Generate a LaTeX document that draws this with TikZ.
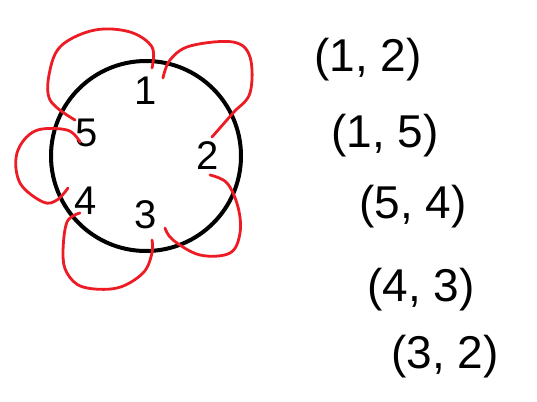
\documentclass[tikz,border=0pt]{standalone}
\usepackage{fontspec}
\setmainfont{Liberation Sans}
\definecolor{paintred}{RGB}{237,28,36}
\begin{document}
\begin{tikzpicture}[x=1pt,y=-1pt,
  lbl/.style={font=\fontsize{40}{44}\selectfont, inner sep=0pt},
  pair/.style={font=\fontsize{46}{52}\selectfont, inner sep=0pt},
  loop/.style={draw=paintred, line width=2.8pt, line cap=round, line join=round}]
\useasboundingbox (0,0) rectangle (537,401);
\node[draw, line width=4pt, circle, minimum size=190pt, inner sep=0pt] (c) at (146,156) {};
\node[lbl] (n1) at (146,91) {1};
\node[lbl] (n5) at (87,133) {5};
\node[lbl] (n2) at (208,156) {2};
\node[lbl] (n4) at (86,201) {4};
\node[lbl] (n3) at (146,215) {3};
% loops
\draw[loop] plot[smooth, tension=0.6] coordinates {(152,68) (152,47) (130,32) (95,30) (62,45) (50,70) (50,100) (75,120)};
\draw[loop] plot[smooth, tension=0.6] coordinates {(163,78) (170,60) (190,46) (233,42) (250,57) (250,93) (233,113) (212,137)};
\draw[loop] plot[smooth, tension=0.6] coordinates {(80,142) (67,130) (35,131) (17,153) (20,183) (43,202) (57,200) (68,188)};
\draw[loop] plot[smooth, tension=0.6] coordinates {(80,213) (67,222) (63,253) (67,273) (83,287) (117,288) (143,273) (152,253) (152,240)};
\draw[loop] plot[smooth, tension=0.6] coordinates {(165,228) (173,240) (200,255) (230,253) (240,233) (238,207) (227,183) (210,175)};
% pairs
\node[pair] (p1) at (368,60) {(1, 2)};
\node[pair] (p2) at (385,136) {(1, 5)};
\node[pair] (p3) at (413,207) {(5, 4)};
\node[pair] (p4) at (421,290) {(4, 3)};
\node[pair] (p5) at (445,357) {(3, 2)};
\end{tikzpicture}
\end{document}
